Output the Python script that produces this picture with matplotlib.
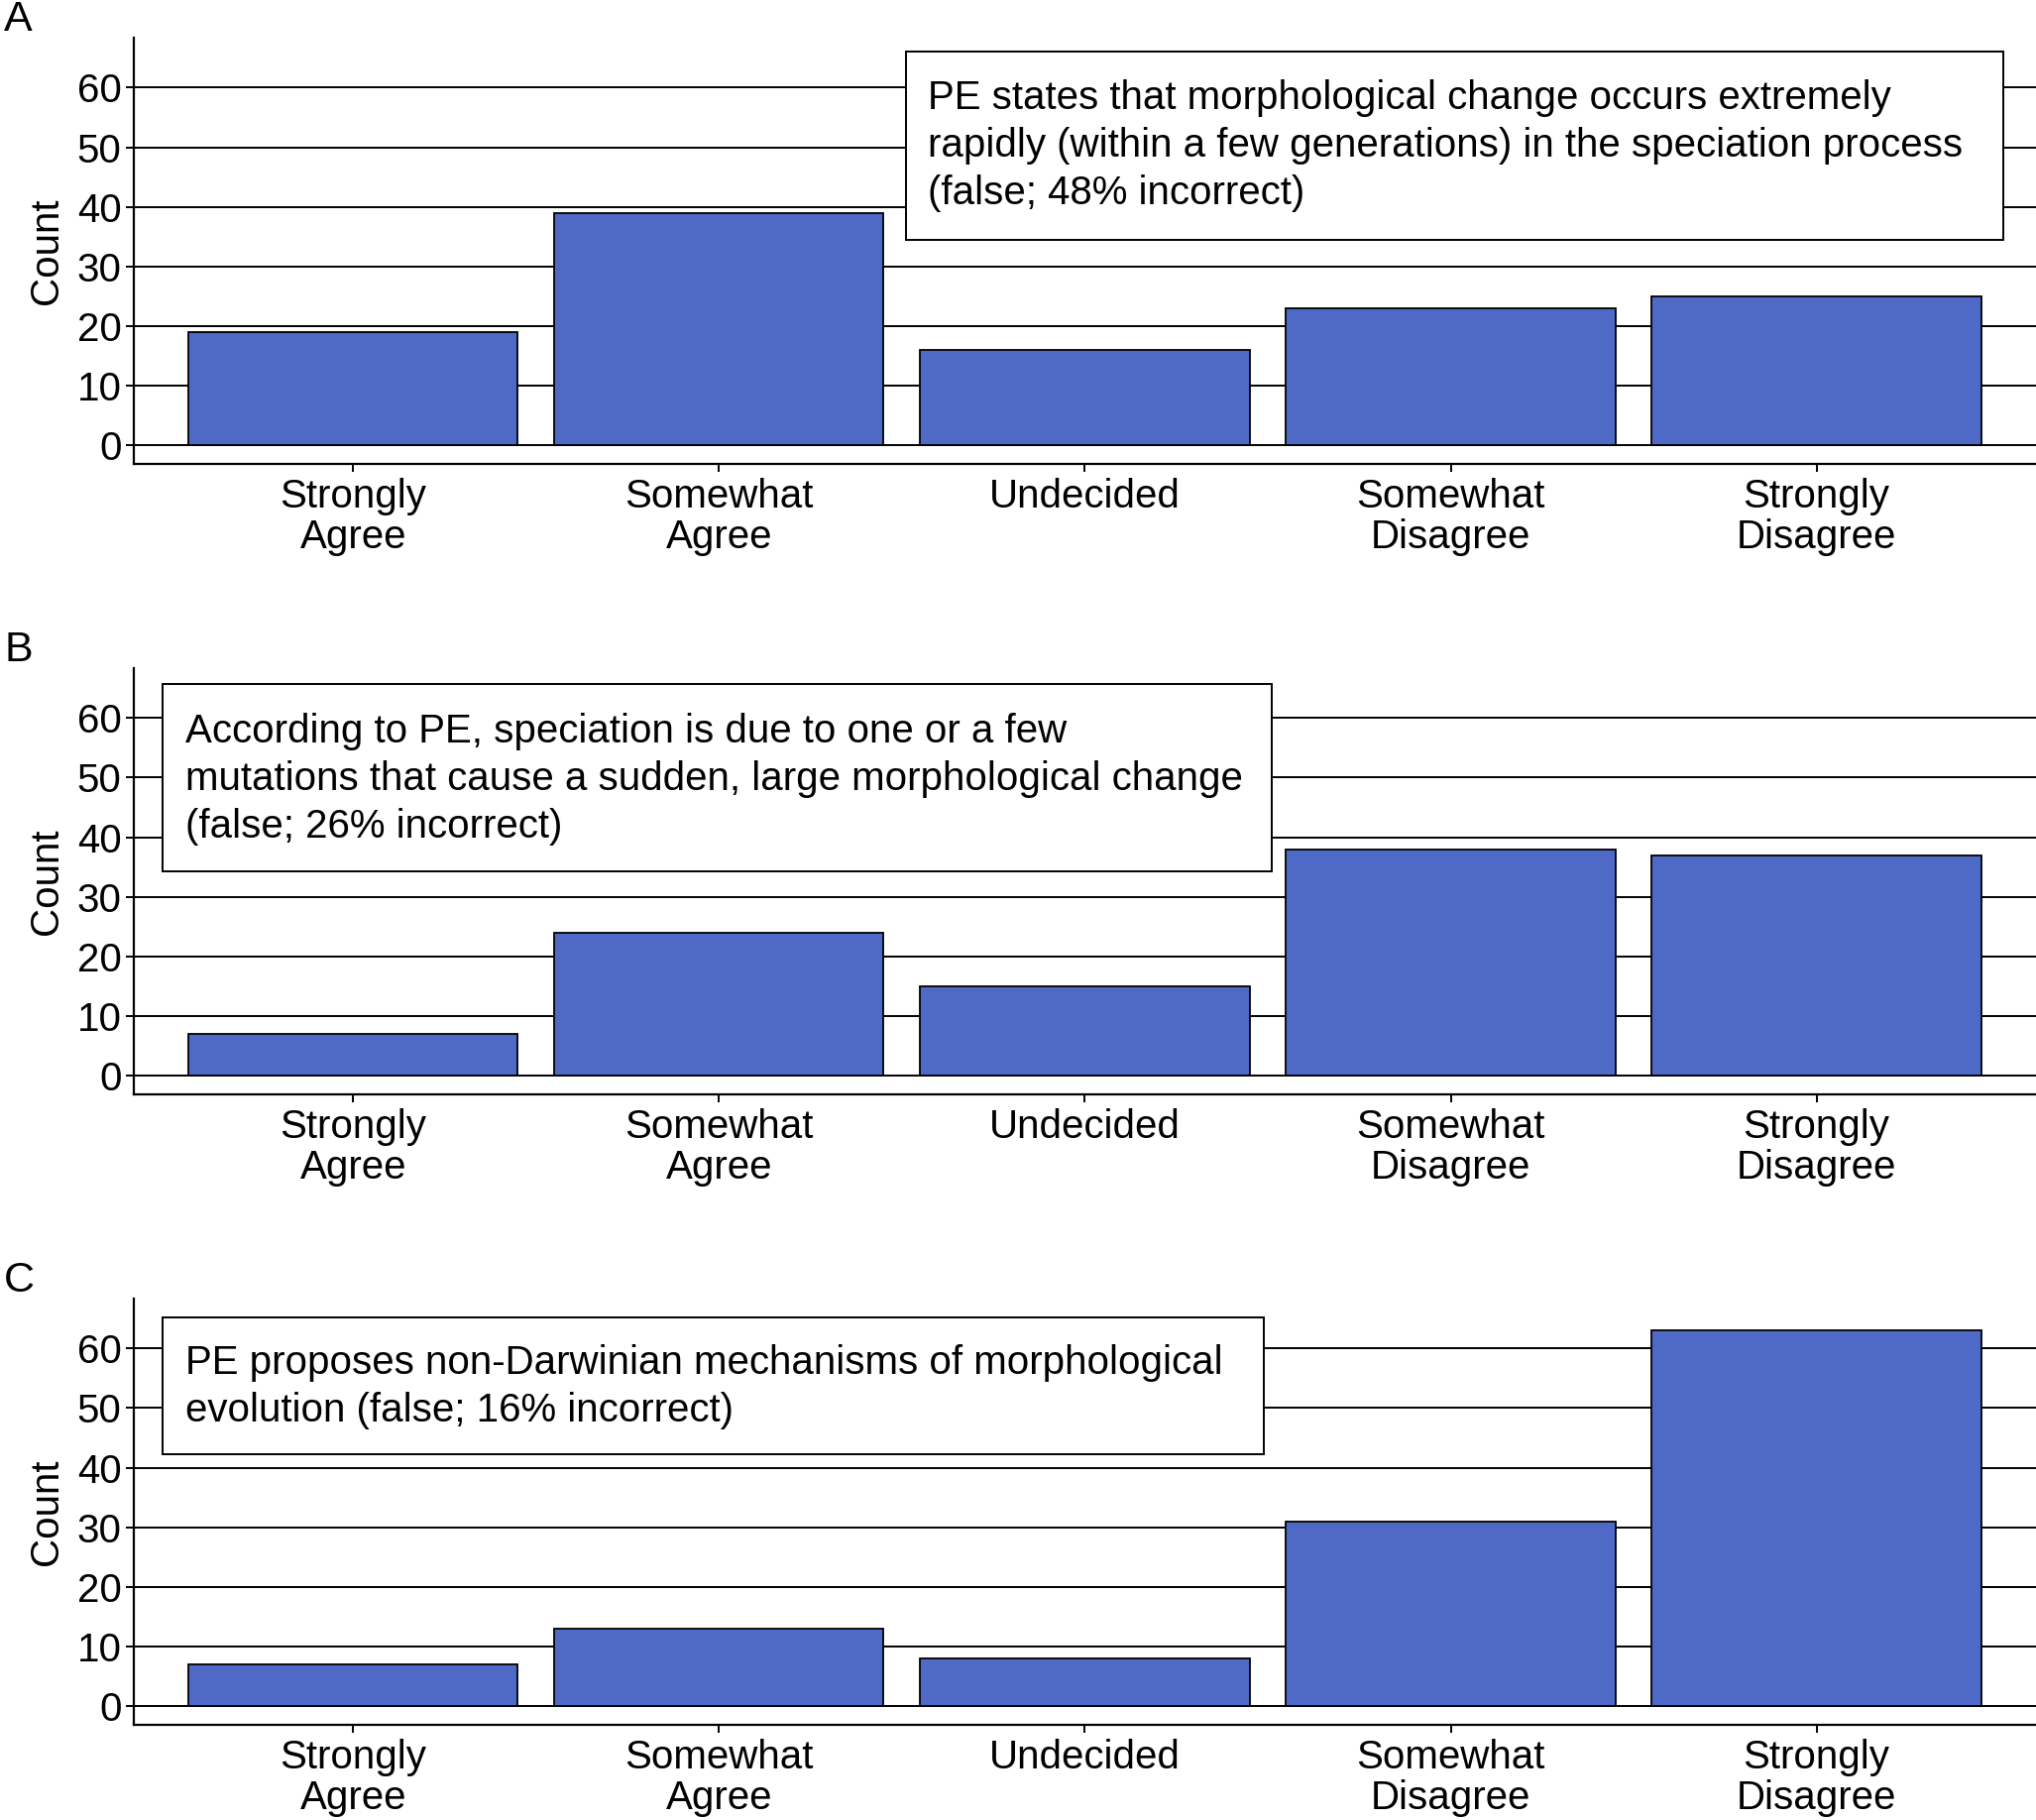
import numpy as np
import matplotlib
matplotlib.use("Agg")
import matplotlib.pyplot as plt
import matplotlib.patches as mpatches

plt.rcParams['font.family'] = ['Liberation Sans', 'DejaVu Sans']

categories = ["Strongly\nAgree", "Somewhat\nAgree", "Undecided",
              "Somewhat\nDisagree", "Strongly\nDisagree"]

counts_a = [19, 39, 16, 23, 25]
counts_b = [7, 24, 15, 38, 37]
counts_c = [7, 13, 8, 31, 63]

text_a = ("PE states that morphological change occurs extremely\n"
          "rapidly (within a few generations) in the speciation process\n"
          "(false; 48% incorrect)")
text_b = ("According to PE, speciation is due to one or a few\n"
          "mutations that cause a sudden, large morphological change\n"
          "(false; 26% incorrect)")
text_c = ("PE proposes non-Darwinian mechanisms of morphological\n"
          "evolution (false; 16% incorrect)")

yticks = [0, 10, 20, 30, 40, 50, 60]
bar_color = "#4f69c6"

# panel layout: (letter, counts, note, box x0, x1, y0, y1, text x, text y, axes bottom)
panels = [
    ("A", counts_a, text_a, (1.51, 4.51, 34.4, 66.1), (1.57, 61.4), 0.7451),
    ("B", counts_b, text_b, (-0.52, 2.51, 34.2, 65.7), (-0.46, 60.9), 0.3987),
    ("C", counts_c, text_c, (-0.52, 2.49, 42.2, 65.3), (-0.46, 60.8), 0.0523),
]

fig = plt.figure(figsize=(20.54, 18.36), dpi=100)
fs = 29

for letter, counts, note, box, txy, bottom in panels:
    ax = fig.add_axes([0.0657, bottom, 0.9343, 0.2342])
    x = np.arange(len(categories))
    for yv in yticks:
        ax.axhline(yv, color="black", lw=1.4, zorder=1)
    ax.bar(x, counts, width=0.9, color=bar_color, edgecolor="black",
           linewidth=1.3, zorder=2)
    ax.set_xlim(-0.6, 4.6)
    ax.set_ylim(-3.2, 68.4)
    ax.set_yticks(yticks)
    ax.set_xticks(x)
    ax.set_xticklabels(categories, fontsize=fs, linespacing=1.12)
    ax.tick_params(axis="y", labelsize=fs, length=6, width=1.4, pad=3)
    ax.tick_params(axis="x", length=6, width=1.4, pad=4)
    ax.set_ylabel("Count", fontsize=fs, labelpad=8)
    for s in ["top", "right"]:
        ax.spines[s].set_visible(False)
    for s in ["left", "bottom"]:
        ax.spines[s].set_linewidth(1.6)

    x0, x1, y0, y1 = box
    rect = mpatches.Rectangle((x0, y0), x1 - x0, y1 - y0, facecolor="white",
                              edgecolor="black", linewidth=1.4, zorder=3)
    ax.add_patch(rect)
    ax.text(txy[0], txy[1], note, fontsize=fs, va="top", ha="left",
            linespacing=1.33, zorder=4)

    top_px = (1 - (bottom + 0.2342)) * 1836
    fig.text(4 / 2054, 1 - (top_px - 18) / 1836, letter, fontsize=fs + 2,
             ha="left", va="center")

fig.savefig("out.png", dpi=100)
